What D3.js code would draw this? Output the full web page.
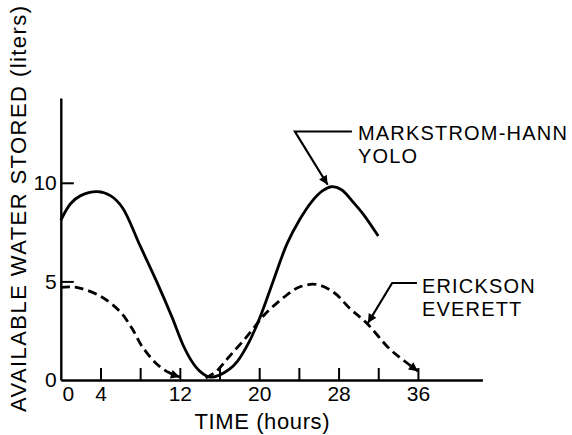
<!DOCTYPE html>
<html>
<head>
<meta charset="utf-8">
<script src="https://cdn.jsdelivr.net/npm/d3@7"></script>
<style>
    body { margin: 0; background: #ffffff; }
    svg { display: block; }
    text { font-family: "Liberation Sans", Arial, sans-serif; fill: #000000; }
</style>
</head>
<body>
<div id="graph"></div>
<script>
// Markstrom-Hann Yolo (solid line): [hours, liters]
var markstromYolo = [
    [0, 8.1], [1, 8.95], [2, 9.35], [3.7, 9.55], [5, 9.35], [6.2, 8.75],
    [8, 6.8], [9.7, 4.95], [11.2, 3.2], [12.3, 1.8], [13.2, 0.95], [14, 0.45],
    [15, 0.15], [16, 0.25], [17, 0.55], [17.8, 0.95], [19, 1.95], [20.1, 3.2],
    [21.4, 5.0], [22.8, 6.9], [24.1, 8.15], [25.3, 9.05], [26.4, 9.6], [27.3, 9.8],
    [28.3, 9.65], [29.5, 9.0], [30.5, 8.4], [32, 7.3]
];

// Erickson Everett (dashed line), drawn as two arrowed pieces
var ericksonFalling = [
    [0, 4.7], [1, 4.72], [2, 4.65], [4, 4.25], [6, 3.45], [7.2, 2.6],
    [8.2, 1.7], [9.7, 0.8], [11, 0.35], [12, 0.15]
];
var ericksonRising = [
    [14.6, 0.1], [15.7, 0.45], [17, 1.2], [18.5, 2.05], [20.1, 3.05], [20.6, 3.35],
    [22.5, 4.2], [24, 4.7], [25.7, 4.85], [27.5, 4.45], [29.2, 3.6], [30.8, 2.9],
    [33.2, 1.55], [34.8, 0.9], [36, 0.45]
];

var xTicks = [0, 4, 8, 12, 16, 20, 24, 28, 32, 36];
var xTickLabels = ["0", "4", "", "12", "", "20", "", "28", "", "36"];
var yTicks = [0, 5, 10];
var yTickLabels = ["0", "5", "10"];

// leader annotations, in data units: elbow, end of the flat part, arrow tip, text anchor
var annotations = [
    {lines: ["MARKSTROM-HANN", "YOLO"], elbow: [23.6, 12.6], flatEnd: 29.35, tip: [26.9, 9.9], text: [29.95, 12.18]},
    {lines: ["ERICKSON", "EVERETT"], elbow: [33.4, 4.92], flatEnd: 35.9, tip: [30.96, 2.89], text: [36.4, 4.42]}
];

var xTitle = "TIME (hours)";
var yTitle = "AVAILABLE WATER STORED (liters)";

function load() {
    var width = 572;
    var height = 435;

    var svg = d3.select("#graph").append("svg")
        .attr("width", width)
        .attr("height", height);

    var defs = svg.append("defs");
    defs.append("marker")
        .attr("id", "arrow")
        .attr("viewBox", "0 -5 10 10")
        .attr("refX", 10)
        .attr("refY", 0)
        .attr("markerUnits", "userSpaceOnUse")
        .attr("markerWidth", 13)
        .attr("markerHeight", 9)
        .attr("orient", "auto")
        .append("path")
        .attr("d", "M0,-5L10,0L0,5Z")
        .attr("fill", "#000")
    ;

    var x = d3.scaleLinear().domain([0, 42.5]).range([60.8, 482.4]);
    var y = d3.scaleLinear().domain([0, 14.3]).range([380, 98]);

    var line = d3.line()
        .curve(d3.curveCatmullRom.alpha(0.5))
        .x(function(d) { return x(d[0]); })
        .y(function(d) { return y(d[1]); });

    // x axis, ticks point up into the plot
    var xAxis = d3.axisBottom(x)
        .tickValues(xTicks)
        .tickSizeInner(-12)
        .tickSizeOuter(0)
        .tickPadding(6)
        .tickFormat(function(d, i) { return xTickLabels[i]; });

    var gX = svg.append("g")
        .attr("transform", "translate(0," + y(0) + ")")
        .call(xAxis);
    gX.select(".domain").attr("stroke-width", 2.4);
    gX.selectAll(".tick line").attr("stroke-width", 2);
    gX.selectAll(".tick").filter(function(d) { return d === 0; })
        .select("line").remove();
    gX.selectAll(".tick").filter(function(d) { return d === 0; })
        .select("text").attr("dx", 7);
    gX.selectAll(".tick text")
        .attr("font-size", 21)
        .attr("font-family", "Liberation Sans")
        .attr("fill", "#000");

    // y axis, ticks point right into the plot
    var yAxis = d3.axisLeft(y)
        .tickValues(yTicks)
        .tickSizeInner(-13)
        .tickSizeOuter(0)
        .tickPadding(4)
        .tickFormat(function(d, i) { return yTickLabels[i]; });

    var gY = svg.append("g")
        .attr("transform", "translate(" + x(0) + ",0)")
        .call(yAxis);
    gY.select(".domain").attr("stroke-width", 2.4);
    gY.selectAll(".tick line").attr("stroke-width", 2);
    gY.selectAll(".tick").filter(function(d) { return d === 0; })
        .select("line").remove();
    gY.selectAll(".tick text")
        .attr("font-size", 21)
        .attr("font-family", "Liberation Sans")
        .attr("fill", "#000");

    // curves
    svg.append("path")
        .datum(markstromYolo)
        .attr("fill", "none")
        .attr("stroke", "#000")
        .attr("stroke-width", 2.8)
        .attr("d", line);

    svg.selectAll(".dashed")
        .data([ericksonFalling, ericksonRising])
        .enter()
        .append("path")
        .attr("class", "dashed")
        .attr("fill", "none")
        .attr("stroke", "#000")
        .attr("stroke-width", 2.8)
        .attr("stroke-dasharray", "9,5")
        .attr("marker-end", "url(#arrow)")
        .attr("d", line)
    ;

    // annotations with leader arrows
    annotations.forEach(function(a) {
        svg.append("path")
            .attr("fill", "none")
            .attr("stroke", "#000")
            .attr("stroke-width", 2.2)
            .attr("d", "M" + x(a.flatEnd) + "," + y(a.elbow[1]) +
                "L" + x(a.elbow[0]) + "," + y(a.elbow[1]) +
                "L" + x(a.tip[0]) + "," + y(a.tip[1]))
            .attr("marker-end", "url(#arrow)");

        a.lines.forEach(function(s, i) {
            svg.append("text")
                .attr("x", x(a.text[0]))
                .attr("y", y(a.text[1]) + i * 23)
                .attr("font-size", 20)
                .attr("letter-spacing", 1.2)
                .text(s);
        });
    });

    // axis titles
    svg.append("text")
        .attr("x", 262)
        .attr("y", 429)
        .attr("text-anchor", "middle")
        .attr("font-size", 22)
        .attr("textLength", 135)
        .text(xTitle);

    svg.append("text")
        .attr("transform", "translate(26,209) rotate(-90)")
        .attr("text-anchor", "middle")
        .attr("font-size", 22)
        .attr("textLength", 406)
        .text(yTitle);
}

load();
</script>
</body>
</html>
